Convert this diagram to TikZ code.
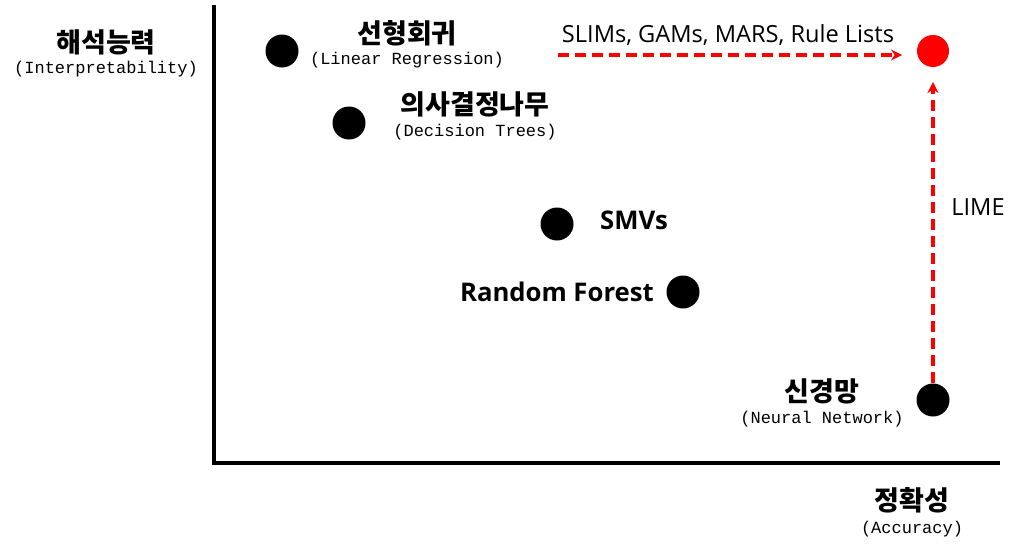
\documentclass[tikz,border=0pt]{standalone}
\usepackage{fontspec}
\setmainfont{Open Sans}
\newfontfamily\kr{Noto Sans CJK KR}
\newfontfamily\mono{Liberation Mono}
\usetikzlibrary{arrows.meta}
\tikzset{
  dot/.style={circle,fill=black,minimum size=33pt,inner sep=0pt},
  reddot/.style={circle,fill=red,minimum size=32pt,inner sep=0pt},
  title/.style={font=\kr\bfseries\fontsize{27}{30}\selectfont,inner sep=0pt},
  sub/.style={font=\mono\fontsize{17}{19}\selectfont,inner sep=0pt},
  en/.style={font=\bfseries\fontsize{25.7}{28}\selectfont,inner sep=0pt},
  lab/.style={font=\fontsize{23.6}{26}\selectfont,inner sep=0pt},
  redarrow/.style={red,line width=3.5pt,dash pattern=on 11pt off 6pt,-{Stealth[length=11pt,width=11pt]}},
  axis/.style={line width=3.5pt}
}
\begin{document}
\begin{tikzpicture}[x=1pt,y=-1pt]
\useasboundingbox (0,0) rectangle (1019,552);
% axes
\coordinate (top) at (214,5);
\coordinate (origin) at (214,463);
\coordinate (right) at (1000,463);
\draw[axis] (top) -- (origin) -- (right);
% axis labels
\node[title] (ylab) at (106,42) {해석능력};
\node[sub] (ylabs) at (106,69) {(Interpretability)};
\node[title] (xlab) at (912,500) {정확성};
\node[sub] (xlabs) at (912,529) {(Accuracy)};
% dots
\node[dot] (lr) at (282,51) {};
\node[dot] (dt) at (349,123) {};
\node[dot] (smv) at (557,224) {};
\node[dot] (rf) at (683,292) {};
\node[dot] (nn) at (933,400) {};
\node[reddot] (goal) at (933,51) {};
% labels
\node[title] (lrt) at (407,33) {선형회귀};
\node[sub] (lrs) at (407,60) {(Linear Regression)};
\node[title] (dtt) at (475,104) {의사결정나무};
\node[sub] (dts) at (475,132) {(Decision Trees)};
\node[en,anchor=west] (smvt) at (600,220) {SMVs};
\node[en,anchor=east] (rft) at (654,292) {Random Forest};
\node[title] (nnt) at (822,391) {신경망};
\node[sub] (nns) at (822,419) {(Neural Network)};
% arrows
\coordinate (hs) at (558,55);
\coordinate (he) at (902,55);
\draw[redarrow] (hs) -- (he);
\node[lab] (slim) at (728,35) {SLIMs, GAMs, MARS, Rule Lists};
\coordinate (vs) at (933,383);
\coordinate (ve) at (933,82);
\draw[redarrow] (vs) -- (ve);
\node[lab] (lime) at (978,207) {LIME};
\end{tikzpicture}
\end{document}
